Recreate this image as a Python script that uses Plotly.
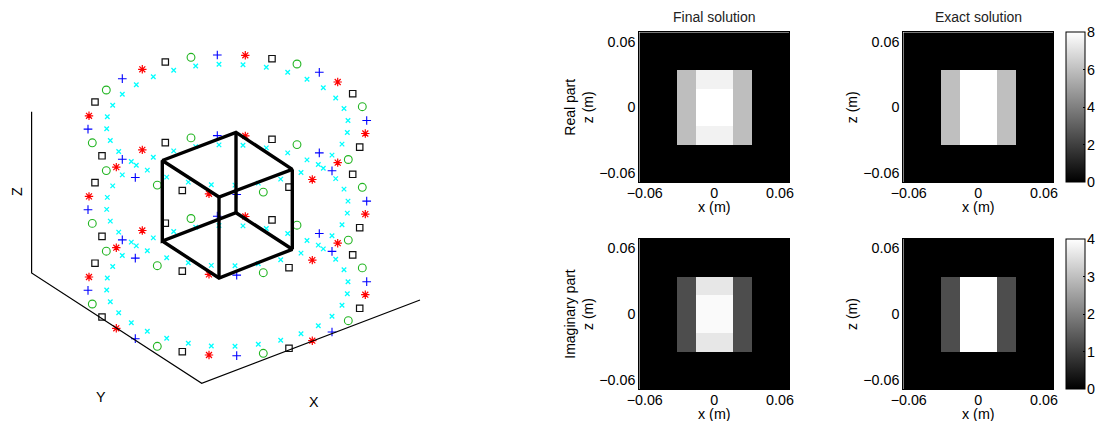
import plotly.graph_objects as go

W, H = 1095, 421

# --- left panel: positions, top ring of markers
red_x = [89, 116.3, 209, 312.3, 365.3, 337.7, 245.3, 142.3]
red_y = [115.8, 167.1, 193.8, 179.5, 133.5, 82, 55.3, 69.3]
plus_x = [88, 135.3, 236.7, 332, 366.7, 319.3, 217.3, 122.3]
plus_y = [129.1, 177.5, 194.5, 170.8, 120.5, 72.3, 55, 78.7]
circle_x = [92.3, 157.3, 263.3, 348.3, 362.3, 297, 191, 106.3]
circle_y = [142.8, 185.1, 192.1, 159.5, 106.7, 64, 57.3, 90]
square_x = [102, 182.3, 289, 359.7, 352.7, 272, 165.3, 95]
square_y = [155.8, 190.5, 187.1, 147.1, 93.7, 58.7, 62, 102]
cyan_x = [107.3, 106.7, 110.3, 118.7, 131.3, 147.3, 166.7, 188.3, 211.3, 235, 258.3, 280.7, 301, 318.3, 332, 342,
          347.3, 348, 344, 335.7, 323.3, 307, 287.7, 266.3, 243, 219, 195.7, 173.7, 153.3, 136.3, 122.3, 112.7]
cyan_y = [116.8, 128.8, 140.5, 151.5, 161.5, 170.1, 177.1, 182.1, 184.8, 185.1, 183.1, 179.1, 172.5, 164.5, 155.1, 144.1,
          132.5, 120.5, 108.5, 98, 87.7, 79.3, 72.3, 67.3, 64.7, 64.3, 66, 70.3, 76.7, 84.7, 94.3, 105.3]
ring_levels = [0, 80.6, 161.2]

cube_x = [162.3, 236, 292.3, 219, 162.3, 162.3, 236, 292.3, 219, 162.3, None, 236, 236, None, 292.3, 292.3, None, 219, 219]
cube_y = [160.5, 132.3, 169.3, 197, 160.5, 241, 212.7, 249.3, 278, 241, None, 132.3, 212.7, None, 169.3, 249.3, None, 197, 278]
box_x = [31.6, 31.6, 201.7, 420]
box_y = [111.7, 273, 383.3, 300]

# --- right panels
cell_centres = [-0.056875, -0.040625, -0.024375, -0.008125, 0.008125, 0.024375, 0.040625, 0.056875]
real_final = [[0]*8, [0]*8,
              [0, 0, 5.95, 7.6, 7.6, 5.95, 0, 0],
              [0, 0, 5.95, 8, 8, 5.95, 0, 0],
              [0, 0, 5.95, 8, 8, 5.95, 0, 0],
              [0, 0, 5.95, 7.6, 7.6, 5.95, 0, 0],
              [0]*8, [0]*8]
real_exact = [[0]*8, [0]*8,
              [0, 0, 6, 8, 8, 6, 0, 0],
              [0, 0, 6, 8, 8, 6, 0, 0],
              [0, 0, 6, 8, 8, 6, 0, 0],
              [0, 0, 6, 8, 8, 6, 0, 0],
              [0]*8, [0]*8]
imag_final = [[0]*8, [0]*8,
              [0, 0, 1.2, 3.62, 3.62, 1.2, 0, 0],
              [0, 0, 1.2, 3.92, 3.92, 1.2, 0, 0],
              [0, 0, 1.2, 3.92, 3.92, 1.2, 0, 0],
              [0, 0, 1.2, 3.62, 3.62, 1.2, 0, 0],
              [0]*8, [0]*8]
imag_exact = [[0]*8, [0]*8,
              [0, 0, 1.2, 4, 4, 1.2, 0, 0],
              [0, 0, 1.2, 4, 4, 1.2, 0, 0],
              [0, 0, 1.2, 4, 4, 1.2, 0, 0],
              [0, 0, 1.2, 4, 4, 1.2, 0, 0],
              [0]*8, [0]*8]
x_tick_vals = [-0.0603, 0, 0.056875]
y_tick_vals = [-0.056875, 0, 0.056875]
tick_text = ["\u22120.06", "0", "0.06"]
real_cbar_ticks = [0, 2, 4, 6, 8]
imag_cbar_ticks = [0, 1, 2, 3, 4]

FONT = "Liberation Sans"
FS = 14.3
fig = go.Figure()

# rings
def ring(xs, ys, symbol, color, size, lw):
    px, py = [], []
    for lvl in ring_levels:
        px += xs
        py += [v + lvl for v in ys]
    fig.add_trace(go.Scatter(x=px, y=py, mode="markers", xaxis="x", yaxis="y", showlegend=False,
                             marker=dict(symbol=symbol, size=size, color=color, line=dict(color=color, width=lw))))

ring(cyan_x, cyan_y, "x-thin", "#00ffff", 4.5, 1.3)
ring(square_x, square_y, "square-open", "#111111", 6.4, 1.2)
ring(circle_x, circle_y, "circle-open", "#22b522", 7.8, 1.1)
ring(plus_x, plus_y, "cross-thin", "#0000ff", 6.2, 1.1)
ring(red_x, red_y, "asterisk", "#ff0000", 7, 1.2)

fig.add_trace(go.Scatter(x=box_x, y=box_y, mode="lines", xaxis="x", yaxis="y", showlegend=False,
                         line=dict(color="#000000", width=1.2)))
fig.add_trace(go.Scatter(x=cube_x, y=cube_y, mode="lines", xaxis="x", yaxis="y", showlegend=False,
                         line=dict(color="#000000", width=3.4)))

GRAY = [[0, "#000000"], [1, "#ffffff"]]

panels = [
    ("x2", "y2", 639.3, 32.3, real_final, 8, None, "Final solution", "Real part<br>z (m)"),
    ("x3", "y3", 903.3, 32.3, real_exact, 8, real_cbar_ticks, "Exact solution", "z (m)"),
    ("x4", "y4", 639.3, 239, imag_final, 4, None, None, "Imaginary part<br>z (m)"),
    ("x5", "y5", 903.3, 239, imag_exact, 4, imag_cbar_ticks, None, "z (m)"),
]
layout = {}
annotations = []
blk = dict(size=FS, family=FONT, color="#000000")
for xa, ya, left, top, z, zmax, cb, title, ylab in panels:
    tr = dict(x=cell_centres, y=cell_centres, z=z[::-1], zmin=0, zmax=zmax, colorscale=GRAY, xaxis=xa, yaxis=ya,
              hoverinfo="skip")
    if cb:
        tr.update(showscale=True, colorbar=dict(
            x=1066 / W, xanchor="left", xpad=0, ypad=0, thickness=18.7, thicknessmode="pixels",
            len=150, lenmode="pixels", y=(H - top - 150) / H, yanchor="bottom",
            tickvals=cb, ticks="inside", ticklen=2, tickcolor="#000000", showticklabels=False,
            outlinewidth=1, outlinecolor="#000000"))
        for v in cb:
            annotations.append(dict(text=str(v), xref="paper", yref="paper", x=1085 / W,
                                    y=(H - top - 150 + 150 * v / zmax) / H, xanchor="left", yanchor="middle",
                                    showarrow=False, font=blk))
    else:
        tr.update(showscale=False)
    fig.add_trace(go.Heatmap(**tr))
    common = dict(range=[-0.065, 0.065], ticktext=tick_text, ticks="", showgrid=False,
                  zeroline=False, showline=True, mirror=True, linecolor="#000000", linewidth=1, tickfont=blk)
    layout["xaxis" + xa[1:]] = dict(domain=[left / W, (left + 150) / W], anchor=ya, tickvals=x_tick_vals,
                                    ticklabelstandoff=-2, **common)
    layout["yaxis" + ya[1:]] = dict(domain=[(H - top - 150) / H, (H - top) / H], anchor=xa, tickvals=y_tick_vals,
                                    title=dict(text=ylab, font=dict(size=14, family=FONT, color="#000000"), standoff=2),
                                    **common)
    annotations.append(dict(text="x (m)", xref="paper", yref="paper", x=(left + 75) / W, y=(H - top - 150 - 24.8) / H,
                            xanchor="center", yanchor="middle", showarrow=False, font=blk))
    if title:
        annotations.append(dict(text=title, xref="paper", yref="paper", x=(left + 75) / W, y=(H - 17) / H,
                                xanchor="center", yanchor="middle", showarrow=False,
                                font=dict(size=14, family=FONT, color="#222222")))

for txt, x, y, ang in [("Z", 17, 192, -90), ("Y", 101, 397, 0), ("X", 314, 402, 0)]:
    annotations.append(dict(text=txt, xref="x", yref="y", x=x, y=y, showarrow=False, textangle=ang, font=blk))

fig.update_layout(
    width=W, height=H, margin=dict(l=0, r=0, t=0, b=0, pad=0, autoexpand=False), paper_bgcolor="#ffffff", plot_bgcolor="#ffffff",
    font=dict(family=FONT, size=FS, color="#000000"), showlegend=False, annotations=annotations,
    xaxis=dict(domain=[0, 540 / W], range=[0, 540], visible=False),
    yaxis=dict(domain=[0, 1], range=[421, 0], visible=False),
    **layout)
fig.write_html("out.html", config=dict(displayModeBar=False),
               post_script="document.body.style.margin='0';document.body.style.overflow='hidden';")
